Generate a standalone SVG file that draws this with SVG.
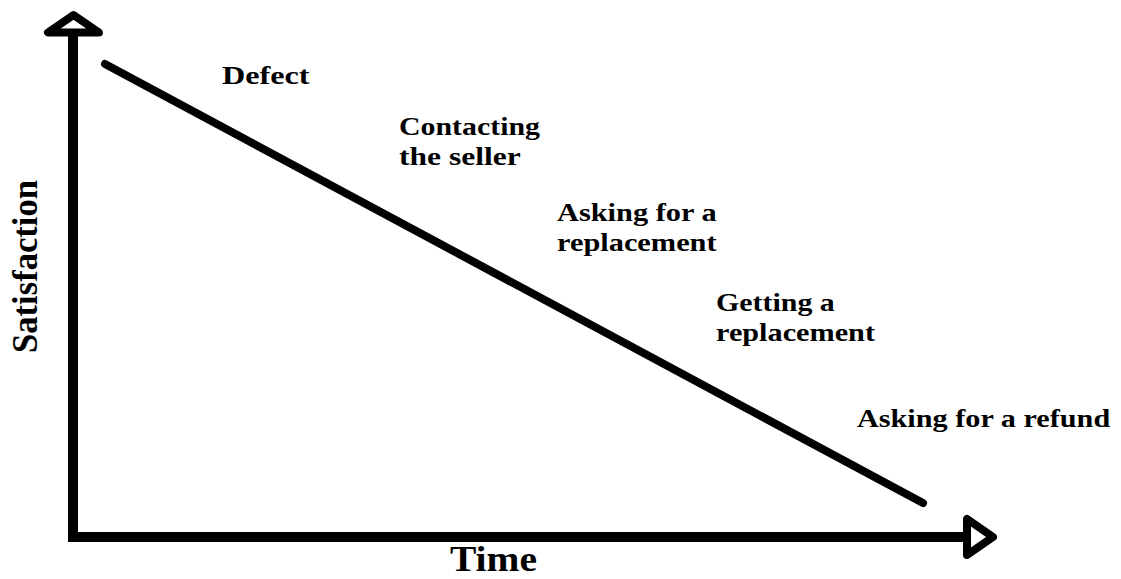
<svg xmlns="http://www.w3.org/2000/svg" width="1121" height="579" viewBox="0 0 1121 579">
<style>
.ax{stroke:#000;stroke-width:10;fill:none}
.ah{stroke:#000;stroke-width:8;fill:#fff;stroke-linejoin:round}
.ln{stroke:#000;stroke-width:8;stroke-linecap:round;fill:none}
.lb{font-family:"Liberation Serif","Times New Roman",serif;font-weight:bold;font-size:25px;fill:#000}
.big{font-family:"Liberation Serif","Times New Roman",serif;font-weight:bold;font-size:36px;fill:#000}
</style>
<rect width="1121" height="579" fill="#fff"/>
<g id="axes">
<path class="ax" d="M73,36 V537 H967"/>
<polygon class="ah" points="73.5,15 48,32.5 99,32.5"/>
<polygon class="ah" points="967,519 967,555 993,537"/>
</g>
<g id="connectors">
<line class="ln" x1="105" y1="64" x2="923" y2="503"/>
</g>
<g id="label-defect"><text class="lb" transform="translate(222,84) scale(1.2,1)" textLength="73" lengthAdjust="spacingAndGlyphs">Defect</text></g>
<g id="label-contacting">
<text class="lb" transform="translate(399,135) scale(1.2,1)" textLength="117.5" lengthAdjust="spacingAndGlyphs">Contacting</text>
<text class="lb" transform="translate(399,165) scale(1.2,1)" textLength="101.5" lengthAdjust="spacingAndGlyphs">the seller</text>
</g>
<g id="label-asking-replacement">
<text class="lb" transform="translate(557,221) scale(1.2,1)" textLength="133" lengthAdjust="spacingAndGlyphs">Asking for a</text>
<text class="lb" transform="translate(557,251) scale(1.2,1)" textLength="133" lengthAdjust="spacingAndGlyphs">replacement</text>
</g>
<g id="label-getting-replacement">
<text class="lb" transform="translate(716,311) scale(1.2,1)" textLength="99" lengthAdjust="spacingAndGlyphs">Getting a</text>
<text class="lb" transform="translate(716,341) scale(1.2,1)" textLength="132.5" lengthAdjust="spacingAndGlyphs">replacement</text>
</g>
<g id="label-refund"><text class="lb" transform="translate(857,427) scale(1.2,1)" textLength="211" lengthAdjust="spacingAndGlyphs">Asking for a refund</text></g>
<g id="axis-x-label"><text class="big" x="450" y="571" font-size="35" textLength="87" lengthAdjust="spacingAndGlyphs">Time</text></g>
<g id="axis-y-label"><text class="big" transform="translate(37,353) rotate(-90)" x="0" y="0" textLength="173" lengthAdjust="spacingAndGlyphs">Satisfaction</text></g>
</svg>
